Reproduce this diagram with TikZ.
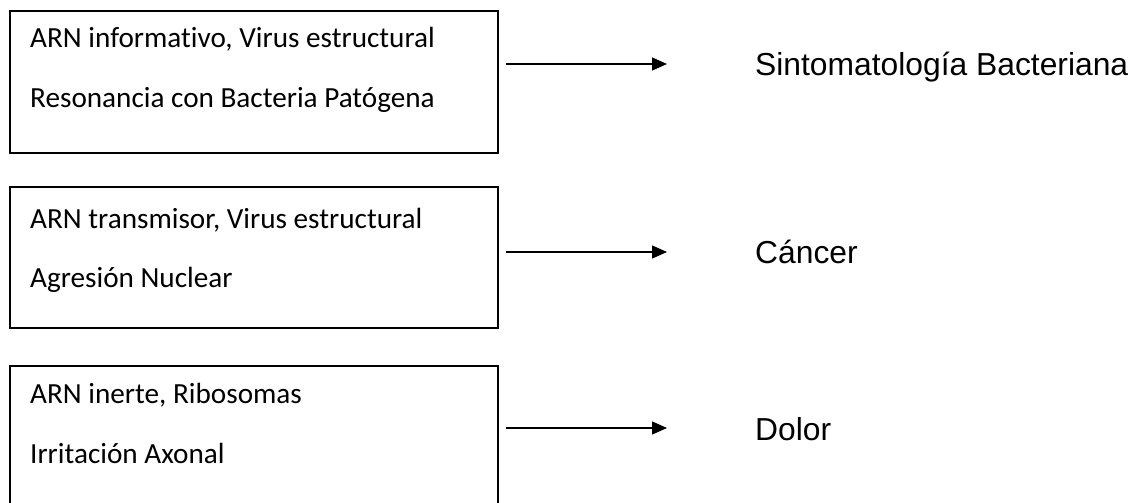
\documentclass[tikz,border=0pt]{standalone}
\usepackage{fontspec}
\setmainfont[Ligatures=NoCommon,RawFeature={-liga}]{Carlito}
\newfontfamily\labfont{Liberation Sans}
\usetikzlibrary{arrows.meta}
\begin{document}
\begin{tikzpicture}[x=1pt,y=-1pt,
  boxst/.style={draw=black, line width=2pt, minimum width=488pt, anchor=north west, inner sep=0pt},
  txt/.style={anchor=base west, inner sep=0pt, font=\fontsize{29.2}{35}\selectfont},
  lab/.style={anchor=base west, inner sep=0pt, font=\labfont\fontsize{31.8}{38}\selectfont},
  arr/.style={draw=black, line width=1.2pt, -{Triangle[length=15pt,width=13pt]}}]
\useasboundingbox (0,0) rectangle (1133,503);
% boxes
\node[boxst, minimum height=142pt] (b1) at (9,10) {};
\node[boxst, minimum height=141pt] (b2) at (9,186) {};
\node[boxst, minimum height=160pt] (b3) at (9,365) {};
% box texts
\node[txt] (t1a) at (30,48) {ARN informativo, Virus estructural};
\node[txt] (t1b) at (30,107) {Resonancia con Bacteria Patógena};
\node[txt] (t2a) at (30,228) {ARN transmisor, Virus estructural};
\node[txt] (t2b) at (30,287) {Agresión Nuclear};
\node[txt] (t3a) at (30,403) {ARN inerte, Ribosomas};
\node[txt] (t3b) at (30,463) {Irritación Axonal};
% labels
\node[lab] (l1) at (755,75) {Sintomatología Bacteriana};
\node[lab] (l2) at (755,263) {Cáncer};
\node[lab] (l3) at (755,440) {Dolor};
% arrows
\coordinate (s1) at (506,64);  \coordinate (e1) at (667,64);
\coordinate (s2) at (506,252); \coordinate (e2) at (667,252);
\coordinate (s3) at (506,428); \coordinate (e3) at (667,428);
\draw[arr] (s1) -- (e1);
\draw[arr] (s2) -- (e2);
\draw[arr] (s3) -- (e3);
\end{tikzpicture}
\end{document}
